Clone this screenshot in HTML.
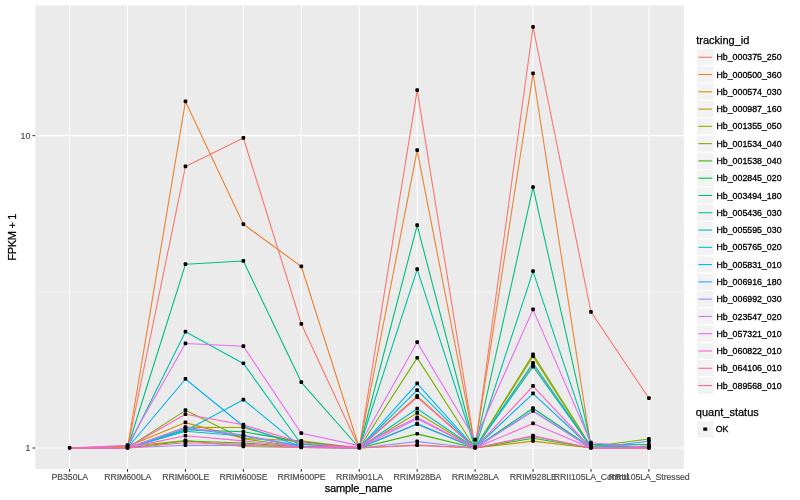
<!DOCTYPE html>
<html lang="en"><head><meta charset="utf-8"><title>Expression plot</title>
<style>html,body{margin:0;padding:0;background:#fff}body{width:800px;height:500px;overflow:hidden}svg{display:block}text{font-family:"Liberation Sans",Arial,Helvetica,sans-serif}.t{font-size:8.8px;fill:#4D4D4D;stroke:#4D4D4D;stroke-width:.18px;letter-spacing:-.1px}.l{font-size:8.8px;fill:#000;stroke:#000;stroke-width:.3px}.h{font-size:11px;fill:#000;stroke:#000;stroke-width:.25px}</style></head><body>
<svg width="800" height="500" viewBox="0 0 800 500">
<rect x="0" y="0" width="800" height="500" fill="#fff"/>
<rect x="35.2" y="5.5" width="648.60" height="463.50" fill="#EBEBEB"/>
<g stroke="#FFFFFF" stroke-width="0.53"><line x1="35.2" x2="683.8" y1="291.83" y2="291.83"/></g>
<g stroke="#FFFFFF" stroke-width="1.07">
<line x1="35.2" x2="683.8" y1="135.65" y2="135.65"/>
<line x1="35.2" x2="683.8" y1="448.0" y2="448.0"/>
<line x1="69.60" x2="69.60" y1="5.5" y2="469.0"/>
<line x1="127.53" x2="127.53" y1="5.5" y2="469.0"/>
<line x1="185.46" x2="185.46" y1="5.5" y2="469.0"/>
<line x1="243.39" x2="243.39" y1="5.5" y2="469.0"/>
<line x1="301.32" x2="301.32" y1="5.5" y2="469.0"/>
<line x1="359.25" x2="359.25" y1="5.5" y2="469.0"/>
<line x1="417.18" x2="417.18" y1="5.5" y2="469.0"/>
<line x1="475.11" x2="475.11" y1="5.5" y2="469.0"/>
<line x1="533.04" x2="533.04" y1="5.5" y2="469.0"/>
<line x1="590.97" x2="590.97" y1="5.5" y2="469.0"/>
<line x1="648.90" x2="648.90" y1="5.5" y2="469.0"/>
</g>
<g fill="none" stroke-width="1.1" stroke-linejoin="round" stroke-linecap="butt">
<polyline stroke="#F8766D" points="69.60,448.00 127.53,448.00 185.46,166.50 243.39,138.00 301.32,324.00 359.25,448.00 417.18,90.30 475.11,448.00 533.04,27.00 590.97,312.00 648.90,398.30"/>
<polyline stroke="#EA8331" points="69.60,448.00 127.53,447.50 185.46,101.50 243.39,224.30 301.32,266.50 359.25,448.00 417.18,150.30 475.11,447.20 533.04,73.50 590.97,447.50 648.90,447.50"/>
<polyline stroke="#D89000" points="69.60,448.00 127.53,446.40 185.46,422.60 243.39,438.40 301.32,440.90 359.25,448.00 417.18,396.10 475.11,448.00 533.04,364.80 590.97,447.50 648.90,446.00"/>
<polyline stroke="#C09B00" points="69.60,448.00 127.53,446.40 185.46,440.50 243.39,446.50 301.32,447.50 359.25,448.00 417.18,445.00 475.11,448.00 533.04,441.10 590.97,448.00 648.90,448.00"/>
<polyline stroke="#A3A500" points="69.60,448.00 127.53,448.00 185.46,427.30 243.39,427.50 301.32,444.00 359.25,448.00 417.18,413.00 475.11,448.00 533.04,356.40 590.97,447.50 648.90,447.00"/>
<polyline stroke="#7CAE00" points="69.60,448.00 127.53,448.00 185.46,410.35 243.39,438.80 301.32,447.00 359.25,448.00 417.18,357.90 475.11,448.00 533.04,354.40 590.97,446.50 648.90,439.00"/>
<polyline stroke="#39B600" points="69.60,448.00 127.53,448.00 185.46,441.00 243.39,443.00 301.32,447.00 359.25,448.00 417.18,433.90 475.11,448.00 533.04,438.30 590.97,448.00 648.90,448.00"/>
<polyline stroke="#00BB4E" points="69.60,448.00 127.53,448.00 185.46,429.80 243.39,431.80 301.32,441.70 359.25,448.00 417.18,423.80 475.11,448.00 533.04,408.20 590.97,447.50 648.90,447.00"/>
<polyline stroke="#00BF7D" points="69.60,448.00 127.53,448.00 185.46,264.30 243.39,261.00 301.32,382.30 359.25,448.00 417.18,225.30 475.11,448.00 533.04,187.30 590.97,444.40 648.90,447.50"/>
<polyline stroke="#00C1A3" points="69.60,448.00 127.53,448.00 185.46,331.80 243.39,363.40 301.32,444.30 359.25,448.00 417.18,269.30 475.11,448.00 533.04,271.30 590.97,444.80 648.90,444.50"/>
<polyline stroke="#00BFC4" points="69.60,448.00 127.53,448.00 185.46,431.20 243.39,436.00 301.32,446.20 359.25,448.00 417.18,408.70 475.11,448.00 533.04,366.70 590.97,447.00 648.90,447.00"/>
<polyline stroke="#00BAE0" points="69.60,448.00 127.53,448.00 185.46,430.85 243.39,399.70 301.32,447.20 359.25,448.00 417.18,390.20 475.11,448.00 533.04,363.00 590.97,447.00 648.90,447.50"/>
<polyline stroke="#00B0F6" points="69.60,448.00 127.53,448.00 185.46,379.00 243.39,426.20 301.32,446.50 359.25,448.00 417.18,383.60 475.11,448.00 533.04,393.60 590.97,447.50 648.90,447.50"/>
<polyline stroke="#35A2FF" points="69.60,448.00 127.53,448.00 185.46,428.50 243.39,435.50 301.32,446.00 359.25,448.00 417.18,424.30 475.11,448.00 533.04,411.00 590.97,448.00 648.90,441.25"/>
<polyline stroke="#9590FF" points="69.60,448.00 127.53,448.00 185.46,445.20 243.39,445.40 301.32,447.50 359.25,448.00 417.18,441.60 475.11,448.00 533.04,436.40 590.97,448.00 648.90,448.00"/>
<polyline stroke="#C77CFF" points="69.60,448.00 127.53,448.00 185.46,427.40 243.39,435.00 301.32,447.50 359.25,448.00 417.18,418.80 475.11,448.00 533.04,411.00 590.97,448.00 648.90,447.50"/>
<polyline stroke="#E76BF3" points="69.60,448.00 127.53,445.20 185.46,343.50 243.39,346.30 301.32,433.30 359.25,445.60 417.18,342.30 475.11,439.80 533.04,309.60 590.97,442.80 648.90,447.50"/>
<polyline stroke="#FA62DB" points="69.60,448.00 127.53,447.60 185.46,435.80 243.39,440.90 301.32,447.00 359.25,446.00 417.18,417.40 475.11,448.00 533.04,423.50 590.97,448.00 648.90,447.75"/>
<polyline stroke="#FF62BC" points="69.60,448.00 127.53,447.60 185.46,414.20 243.39,424.80 301.32,442.75 359.25,448.00 417.18,397.40 475.11,448.00 533.04,386.10 590.97,448.00 648.90,448.00"/>
<polyline stroke="#FF6A98" points="69.60,448.00 127.53,448.00 185.46,442.75 243.39,444.40 301.32,447.50 359.25,448.00 417.18,445.40 475.11,448.00 533.04,435.70 590.97,448.00 648.90,448.00"/>
</g>
<g fill="#000">
<rect x="67.80" y="446.00" width="3.6" height="3.7" rx="1"/>
<rect x="125.73" y="446.00" width="3.6" height="3.7" rx="1"/>
<rect x="183.66" y="164.50" width="3.6" height="3.7" rx="1"/>
<rect x="241.59" y="136.00" width="3.6" height="3.7" rx="1"/>
<rect x="299.52" y="322.00" width="3.6" height="3.7" rx="1"/>
<rect x="357.45" y="446.00" width="3.6" height="3.7" rx="1"/>
<rect x="415.38" y="88.30" width="3.6" height="3.7" rx="1"/>
<rect x="473.31" y="446.00" width="3.6" height="3.7" rx="1"/>
<rect x="531.24" y="25.00" width="3.6" height="3.7" rx="1"/>
<rect x="589.17" y="310.00" width="3.6" height="3.7" rx="1"/>
<rect x="647.10" y="396.30" width="3.6" height="3.7" rx="1"/>
<rect x="125.73" y="445.50" width="3.6" height="3.7" rx="1"/>
<rect x="183.66" y="99.50" width="3.6" height="3.7" rx="1"/>
<rect x="241.59" y="222.30" width="3.6" height="3.7" rx="1"/>
<rect x="299.52" y="264.50" width="3.6" height="3.7" rx="1"/>
<rect x="415.38" y="148.30" width="3.6" height="3.7" rx="1"/>
<rect x="473.31" y="445.20" width="3.6" height="3.7" rx="1"/>
<rect x="531.24" y="71.50" width="3.6" height="3.7" rx="1"/>
<rect x="589.17" y="445.50" width="3.6" height="3.7" rx="1"/>
<rect x="647.10" y="445.50" width="3.6" height="3.7" rx="1"/>
<rect x="125.73" y="444.40" width="3.6" height="3.7" rx="1"/>
<rect x="183.66" y="420.60" width="3.6" height="3.7" rx="1"/>
<rect x="241.59" y="436.40" width="3.6" height="3.7" rx="1"/>
<rect x="299.52" y="438.90" width="3.6" height="3.7" rx="1"/>
<rect x="415.38" y="394.10" width="3.6" height="3.7" rx="1"/>
<rect x="531.24" y="362.80" width="3.6" height="3.7" rx="1"/>
<rect x="647.10" y="444.00" width="3.6" height="3.7" rx="1"/>
<rect x="183.66" y="438.50" width="3.6" height="3.7" rx="1"/>
<rect x="241.59" y="444.50" width="3.6" height="3.7" rx="1"/>
<rect x="299.52" y="445.50" width="3.6" height="3.7" rx="1"/>
<rect x="415.38" y="443.00" width="3.6" height="3.7" rx="1"/>
<rect x="531.24" y="439.10" width="3.6" height="3.7" rx="1"/>
<rect x="589.17" y="446.00" width="3.6" height="3.7" rx="1"/>
<rect x="647.10" y="446.00" width="3.6" height="3.7" rx="1"/>
<rect x="183.66" y="425.30" width="3.6" height="3.7" rx="1"/>
<rect x="241.59" y="425.50" width="3.6" height="3.7" rx="1"/>
<rect x="299.52" y="442.00" width="3.6" height="3.7" rx="1"/>
<rect x="415.38" y="411.00" width="3.6" height="3.7" rx="1"/>
<rect x="531.24" y="354.40" width="3.6" height="3.7" rx="1"/>
<rect x="647.10" y="445.00" width="3.6" height="3.7" rx="1"/>
<rect x="183.66" y="408.35" width="3.6" height="3.7" rx="1"/>
<rect x="241.59" y="436.80" width="3.6" height="3.7" rx="1"/>
<rect x="299.52" y="445.00" width="3.6" height="3.7" rx="1"/>
<rect x="415.38" y="355.90" width="3.6" height="3.7" rx="1"/>
<rect x="531.24" y="352.40" width="3.6" height="3.7" rx="1"/>
<rect x="589.17" y="444.50" width="3.6" height="3.7" rx="1"/>
<rect x="647.10" y="437.00" width="3.6" height="3.7" rx="1"/>
<rect x="183.66" y="439.00" width="3.6" height="3.7" rx="1"/>
<rect x="241.59" y="441.00" width="3.6" height="3.7" rx="1"/>
<rect x="415.38" y="431.90" width="3.6" height="3.7" rx="1"/>
<rect x="531.24" y="436.30" width="3.6" height="3.7" rx="1"/>
<rect x="183.66" y="427.80" width="3.6" height="3.7" rx="1"/>
<rect x="241.59" y="429.80" width="3.6" height="3.7" rx="1"/>
<rect x="299.52" y="439.70" width="3.6" height="3.7" rx="1"/>
<rect x="415.38" y="421.80" width="3.6" height="3.7" rx="1"/>
<rect x="531.24" y="406.20" width="3.6" height="3.7" rx="1"/>
<rect x="183.66" y="262.30" width="3.6" height="3.7" rx="1"/>
<rect x="241.59" y="259.00" width="3.6" height="3.7" rx="1"/>
<rect x="299.52" y="380.30" width="3.6" height="3.7" rx="1"/>
<rect x="415.38" y="223.30" width="3.6" height="3.7" rx="1"/>
<rect x="531.24" y="185.30" width="3.6" height="3.7" rx="1"/>
<rect x="589.17" y="442.40" width="3.6" height="3.7" rx="1"/>
<rect x="183.66" y="329.80" width="3.6" height="3.7" rx="1"/>
<rect x="241.59" y="361.40" width="3.6" height="3.7" rx="1"/>
<rect x="299.52" y="442.30" width="3.6" height="3.7" rx="1"/>
<rect x="415.38" y="267.30" width="3.6" height="3.7" rx="1"/>
<rect x="531.24" y="269.30" width="3.6" height="3.7" rx="1"/>
<rect x="589.17" y="442.80" width="3.6" height="3.7" rx="1"/>
<rect x="647.10" y="442.50" width="3.6" height="3.7" rx="1"/>
<rect x="183.66" y="429.20" width="3.6" height="3.7" rx="1"/>
<rect x="241.59" y="434.00" width="3.6" height="3.7" rx="1"/>
<rect x="299.52" y="444.20" width="3.6" height="3.7" rx="1"/>
<rect x="415.38" y="406.70" width="3.6" height="3.7" rx="1"/>
<rect x="531.24" y="364.70" width="3.6" height="3.7" rx="1"/>
<rect x="589.17" y="445.00" width="3.6" height="3.7" rx="1"/>
<rect x="241.59" y="397.70" width="3.6" height="3.7" rx="1"/>
<rect x="415.38" y="388.20" width="3.6" height="3.7" rx="1"/>
<rect x="531.24" y="361.00" width="3.6" height="3.7" rx="1"/>
<rect x="183.66" y="377.00" width="3.6" height="3.7" rx="1"/>
<rect x="241.59" y="424.20" width="3.6" height="3.7" rx="1"/>
<rect x="299.52" y="444.50" width="3.6" height="3.7" rx="1"/>
<rect x="415.38" y="381.60" width="3.6" height="3.7" rx="1"/>
<rect x="531.24" y="391.60" width="3.6" height="3.7" rx="1"/>
<rect x="183.66" y="426.50" width="3.6" height="3.7" rx="1"/>
<rect x="241.59" y="433.50" width="3.6" height="3.7" rx="1"/>
<rect x="415.38" y="422.30" width="3.6" height="3.7" rx="1"/>
<rect x="531.24" y="409.00" width="3.6" height="3.7" rx="1"/>
<rect x="647.10" y="439.25" width="3.6" height="3.7" rx="1"/>
<rect x="183.66" y="443.20" width="3.6" height="3.7" rx="1"/>
<rect x="241.59" y="443.40" width="3.6" height="3.7" rx="1"/>
<rect x="415.38" y="439.60" width="3.6" height="3.7" rx="1"/>
<rect x="531.24" y="434.40" width="3.6" height="3.7" rx="1"/>
<rect x="241.59" y="433.00" width="3.6" height="3.7" rx="1"/>
<rect x="415.38" y="416.80" width="3.6" height="3.7" rx="1"/>
<rect x="125.73" y="443.20" width="3.6" height="3.7" rx="1"/>
<rect x="183.66" y="341.50" width="3.6" height="3.7" rx="1"/>
<rect x="241.59" y="344.30" width="3.6" height="3.7" rx="1"/>
<rect x="299.52" y="431.30" width="3.6" height="3.7" rx="1"/>
<rect x="357.45" y="443.60" width="3.6" height="3.7" rx="1"/>
<rect x="415.38" y="340.30" width="3.6" height="3.7" rx="1"/>
<rect x="473.31" y="437.80" width="3.6" height="3.7" rx="1"/>
<rect x="531.24" y="307.60" width="3.6" height="3.7" rx="1"/>
<rect x="589.17" y="440.80" width="3.6" height="3.7" rx="1"/>
<rect x="183.66" y="433.80" width="3.6" height="3.7" rx="1"/>
<rect x="241.59" y="438.90" width="3.6" height="3.7" rx="1"/>
<rect x="357.45" y="444.00" width="3.6" height="3.7" rx="1"/>
<rect x="415.38" y="415.40" width="3.6" height="3.7" rx="1"/>
<rect x="531.24" y="421.50" width="3.6" height="3.7" rx="1"/>
<rect x="183.66" y="412.20" width="3.6" height="3.7" rx="1"/>
<rect x="241.59" y="422.80" width="3.6" height="3.7" rx="1"/>
<rect x="299.52" y="440.75" width="3.6" height="3.7" rx="1"/>
<rect x="415.38" y="395.40" width="3.6" height="3.7" rx="1"/>
<rect x="531.24" y="384.10" width="3.6" height="3.7" rx="1"/>
<rect x="183.66" y="440.75" width="3.6" height="3.7" rx="1"/>
<rect x="241.59" y="442.40" width="3.6" height="3.7" rx="1"/>
<rect x="415.38" y="443.40" width="3.6" height="3.7" rx="1"/>
<rect x="531.24" y="433.70" width="3.6" height="3.7" rx="1"/>
</g>
<g stroke="#333333" stroke-width="1.07">
<line x1="32.45" x2="35.2" y1="135.65" y2="135.65"/>
<line x1="32.45" x2="35.2" y1="448.0" y2="448.0"/>
<line x1="69.60" x2="69.60" y1="469.0" y2="471.75"/>
<line x1="127.53" x2="127.53" y1="469.0" y2="471.75"/>
<line x1="185.46" x2="185.46" y1="469.0" y2="471.75"/>
<line x1="243.39" x2="243.39" y1="469.0" y2="471.75"/>
<line x1="301.32" x2="301.32" y1="469.0" y2="471.75"/>
<line x1="359.25" x2="359.25" y1="469.0" y2="471.75"/>
<line x1="417.18" x2="417.18" y1="469.0" y2="471.75"/>
<line x1="475.11" x2="475.11" y1="469.0" y2="471.75"/>
<line x1="533.04" x2="533.04" y1="469.0" y2="471.75"/>
<line x1="590.97" x2="590.97" y1="469.0" y2="471.75"/>
<line x1="648.90" x2="648.90" y1="469.0" y2="471.75"/>
</g>
<text class="t" x="30.2" y="138.95" text-anchor="end">10</text>
<text class="t" x="30.2" y="451.30" text-anchor="end">1</text>
<text class="t" x="69.80" y="480" text-anchor="middle">PB350LA</text>
<text class="t" x="127.73" y="480" text-anchor="middle">RRIM600LA</text>
<text class="t" x="185.66" y="480" text-anchor="middle">RRIM600LE</text>
<text class="t" x="243.59" y="480" text-anchor="middle">RRIM600SE</text>
<text class="t" x="301.52" y="480" text-anchor="middle">RRIM600PE</text>
<text class="t" x="359.45" y="480" text-anchor="middle">RRIM901LA</text>
<text class="t" x="417.38" y="480" text-anchor="middle">RRIM928BA</text>
<text class="t" x="475.31" y="480" text-anchor="middle">RRIM928LA</text>
<text class="t" x="533.24" y="480" text-anchor="middle">RRIM928LE</text>
<text class="t" x="591.17" y="480" text-anchor="middle">RRII105LA_Control</text>
<text class="t" x="649.10" y="480" text-anchor="middle">RRII105LA_Stressed</text>
<text class="h" x="358.4" y="492" text-anchor="middle" style="letter-spacing:-.15px">sample_name</text>
<text class="h" transform="translate(16.2 237.25) rotate(-90)" text-anchor="middle" style="letter-spacing:-.3px">FPKM + 1</text>
<text class="h" x="696.20" y="43.8">tracking_id</text>
<rect x="696.6" y="48.60" width="17.28" height="17.28" fill="#F2F2F2" stroke="#FFFFFF" stroke-width="1.07"/>
<line x1="698.33" x2="712.15" y1="57.24" y2="57.24" stroke="#F8766D" stroke-width="1.1"/>
<text class="l" x="716.48" y="60">Hb_000375_250</text>
<rect x="696.6" y="65.88" width="17.28" height="17.28" fill="#F2F2F2" stroke="#FFFFFF" stroke-width="1.07"/>
<line x1="698.33" x2="712.15" y1="74.52" y2="74.52" stroke="#EA8331" stroke-width="1.1"/>
<text class="l" x="716.48" y="78">Hb_000500_360</text>
<rect x="696.6" y="83.16" width="17.28" height="17.28" fill="#F2F2F2" stroke="#FFFFFF" stroke-width="1.07"/>
<line x1="698.33" x2="712.15" y1="91.80" y2="91.80" stroke="#D89000" stroke-width="1.1"/>
<text class="l" x="716.48" y="95">Hb_000574_030</text>
<rect x="696.6" y="100.44" width="17.28" height="17.28" fill="#F2F2F2" stroke="#FFFFFF" stroke-width="1.07"/>
<line x1="698.33" x2="712.15" y1="109.08" y2="109.08" stroke="#C09B00" stroke-width="1.1"/>
<text class="l" x="716.48" y="112">Hb_000987_160</text>
<rect x="696.6" y="117.72" width="17.28" height="17.28" fill="#F2F2F2" stroke="#FFFFFF" stroke-width="1.07"/>
<line x1="698.33" x2="712.15" y1="126.36" y2="126.36" stroke="#A3A500" stroke-width="1.1"/>
<text class="l" x="716.48" y="129">Hb_001355_050</text>
<rect x="696.6" y="135.00" width="17.28" height="17.28" fill="#F2F2F2" stroke="#FFFFFF" stroke-width="1.07"/>
<line x1="698.33" x2="712.15" y1="143.64" y2="143.64" stroke="#7CAE00" stroke-width="1.1"/>
<text class="l" x="716.48" y="147">Hb_001534_040</text>
<rect x="696.6" y="152.28" width="17.28" height="17.28" fill="#F2F2F2" stroke="#FFFFFF" stroke-width="1.07"/>
<line x1="698.33" x2="712.15" y1="160.92" y2="160.92" stroke="#39B600" stroke-width="1.1"/>
<text class="l" x="716.48" y="164">Hb_001538_040</text>
<rect x="696.6" y="169.56" width="17.28" height="17.28" fill="#F2F2F2" stroke="#FFFFFF" stroke-width="1.07"/>
<line x1="698.33" x2="712.15" y1="178.20" y2="178.20" stroke="#00BB4E" stroke-width="1.1"/>
<text class="l" x="716.48" y="181">Hb_002845_020</text>
<rect x="696.6" y="186.84" width="17.28" height="17.28" fill="#F2F2F2" stroke="#FFFFFF" stroke-width="1.07"/>
<line x1="698.33" x2="712.15" y1="195.48" y2="195.48" stroke="#00BF7D" stroke-width="1.1"/>
<text class="l" x="716.48" y="199">Hb_003494_180</text>
<rect x="696.6" y="204.12" width="17.28" height="17.28" fill="#F2F2F2" stroke="#FFFFFF" stroke-width="1.07"/>
<line x1="698.33" x2="712.15" y1="212.76" y2="212.76" stroke="#00C1A3" stroke-width="1.1"/>
<text class="l" x="716.48" y="216">Hb_005436_030</text>
<rect x="696.6" y="221.40" width="17.28" height="17.28" fill="#F2F2F2" stroke="#FFFFFF" stroke-width="1.07"/>
<line x1="698.33" x2="712.15" y1="230.04" y2="230.04" stroke="#00BFC4" stroke-width="1.1"/>
<text class="l" x="716.48" y="233">Hb_005595_030</text>
<rect x="696.6" y="238.68" width="17.28" height="17.28" fill="#F2F2F2" stroke="#FFFFFF" stroke-width="1.07"/>
<line x1="698.33" x2="712.15" y1="247.32" y2="247.32" stroke="#00BAE0" stroke-width="1.1"/>
<text class="l" x="716.48" y="250">Hb_005765_020</text>
<rect x="696.6" y="255.96" width="17.28" height="17.28" fill="#F2F2F2" stroke="#FFFFFF" stroke-width="1.07"/>
<line x1="698.33" x2="712.15" y1="264.60" y2="264.60" stroke="#00B0F6" stroke-width="1.1"/>
<text class="l" x="716.48" y="268">Hb_005831_010</text>
<rect x="696.6" y="273.24" width="17.28" height="17.28" fill="#F2F2F2" stroke="#FFFFFF" stroke-width="1.07"/>
<line x1="698.33" x2="712.15" y1="281.88" y2="281.88" stroke="#35A2FF" stroke-width="1.1"/>
<text class="l" x="716.48" y="285">Hb_006916_180</text>
<rect x="696.6" y="290.52" width="17.28" height="17.28" fill="#F2F2F2" stroke="#FFFFFF" stroke-width="1.07"/>
<line x1="698.33" x2="712.15" y1="299.16" y2="299.16" stroke="#9590FF" stroke-width="1.1"/>
<text class="l" x="716.48" y="302">Hb_006992_030</text>
<rect x="696.6" y="307.80" width="17.28" height="17.28" fill="#F2F2F2" stroke="#FFFFFF" stroke-width="1.07"/>
<line x1="698.33" x2="712.15" y1="316.44" y2="316.44" stroke="#C77CFF" stroke-width="1.1"/>
<text class="l" x="716.48" y="320">Hb_023547_020</text>
<rect x="696.6" y="325.08" width="17.28" height="17.28" fill="#F2F2F2" stroke="#FFFFFF" stroke-width="1.07"/>
<line x1="698.33" x2="712.15" y1="333.72" y2="333.72" stroke="#E76BF3" stroke-width="1.1"/>
<text class="l" x="716.48" y="337">Hb_057321_010</text>
<rect x="696.6" y="342.36" width="17.28" height="17.28" fill="#F2F2F2" stroke="#FFFFFF" stroke-width="1.07"/>
<line x1="698.33" x2="712.15" y1="351.00" y2="351.00" stroke="#FA62DB" stroke-width="1.1"/>
<text class="l" x="716.48" y="354">Hb_060822_010</text>
<rect x="696.6" y="359.64" width="17.28" height="17.28" fill="#F2F2F2" stroke="#FFFFFF" stroke-width="1.07"/>
<line x1="698.33" x2="712.15" y1="368.28" y2="368.28" stroke="#FF62BC" stroke-width="1.1"/>
<text class="l" x="716.48" y="371">Hb_064106_010</text>
<rect x="696.6" y="376.92" width="17.28" height="17.28" fill="#F2F2F2" stroke="#FFFFFF" stroke-width="1.07"/>
<line x1="698.33" x2="712.15" y1="385.56" y2="385.56" stroke="#FF6A98" stroke-width="1.1"/>
<text class="l" x="716.48" y="389">Hb_089568_010</text>
<text class="h" x="695.80" y="416">quant_status</text>
<rect x="696.6" y="420.90" width="17.28" height="17.28" fill="#F2F2F2" stroke="#FFFFFF" stroke-width="1.07"/>
<rect x="703.24" y="427.54" width="4" height="3.2" rx="0.5" fill="#000"/>
<text class="l" x="715.68" y="432">OK</text>
</svg></body></html>
